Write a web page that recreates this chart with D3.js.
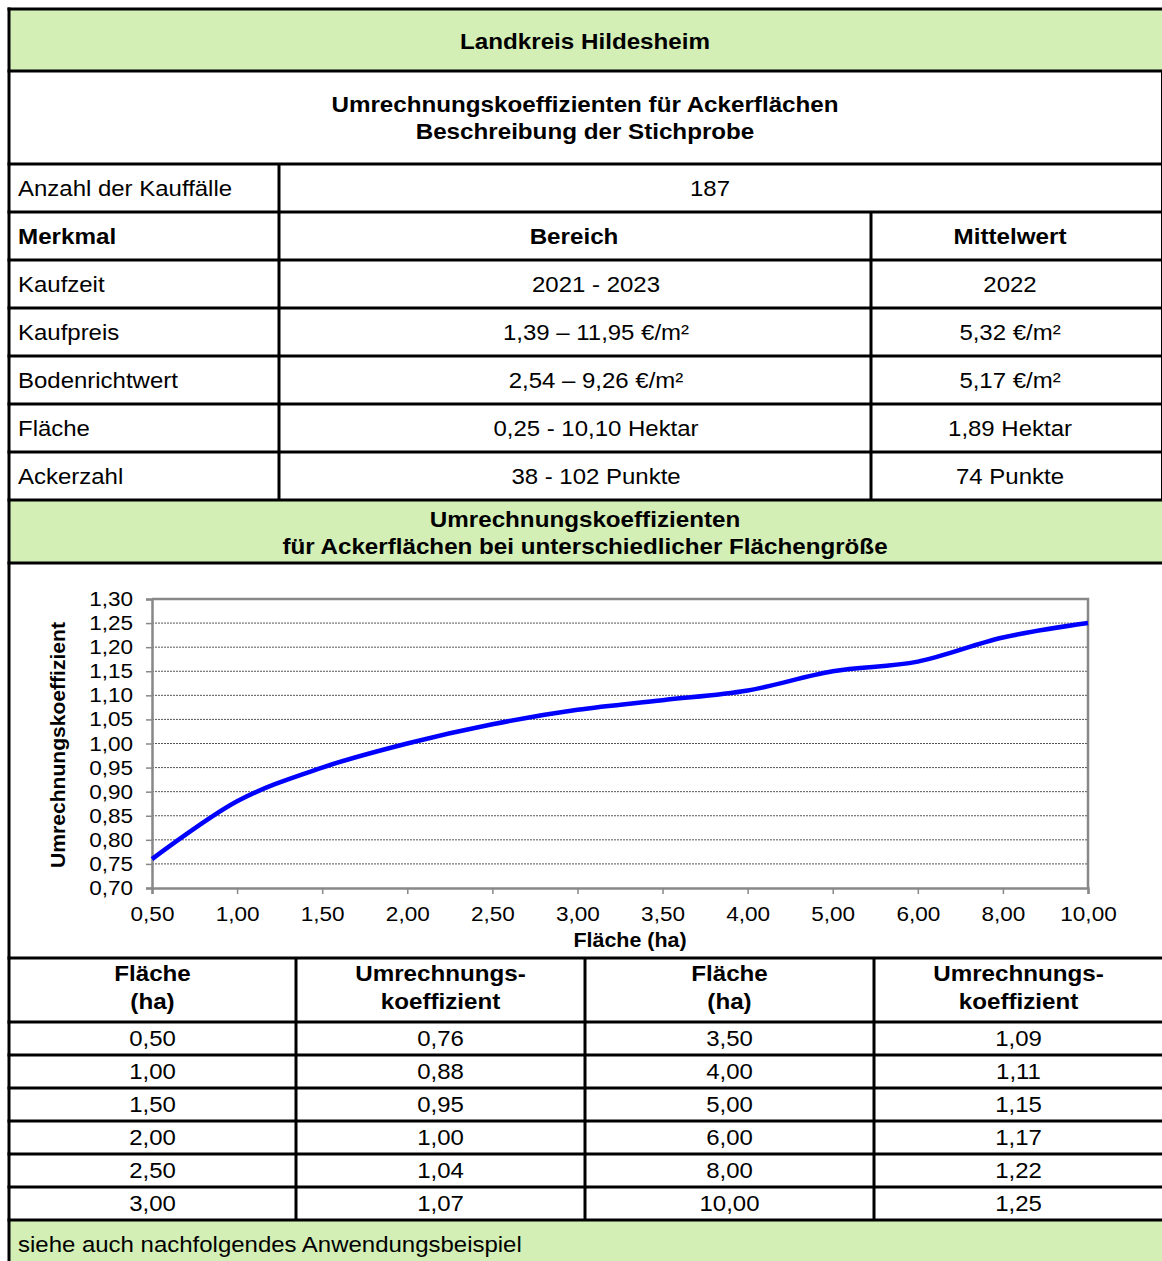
<!DOCTYPE html>
<html>
<head>
<meta charset="utf-8">
<script src="https://cdn.jsdelivr.net/npm/d3@7"></script>
<style>
  html, body { margin: 0; padding: 0; background: #fff; }
  svg { display: block; }
  text { font-family: "Liberation Sans", Arial, sans-serif; fill: #000; }
</style>
</head>
<body>
<svg id="sheet" width="1162" height="1261"></svg>
<script>
// Sample description
const sheetTitle = "Landkreis Hildesheim";
const sampleTitle = ["Umrechnungskoeffizienten für Ackerflächen", "Beschreibung der Stichprobe"];
const countLabel = "Anzahl der Kauffälle";
const countValue = "187";
const headers = ["Merkmal", "Bereich", "Mittelwert"];
const features = ["Kaufzeit", "Kaufpreis", "Bodenrichtwert", "Fläche", "Ackerzahl"];
const ranges = ["2021 - 2023", "1,39 – 11,95 €/m²", "2,54 – 9,26 €/m²", "0,25 - 10,10 Hektar", "38 - 102 Punkte"];
const means = ["2022", "5,32 €/m²", "5,17 €/m²", "1,89 Hektar", "74 Punkte"];

// Conversion coefficients by plot size
const chartTitle = ["Umrechnungskoeffizienten", "für Ackerflächen bei unterschiedlicher Flächengröße"];
const areas = [0.5, 1.0, 1.5, 2.0, 2.5, 3.0, 3.5, 4.0, 5.0, 6.0, 8.0, 10.0];
const coefficients = [0.76, 0.88, 0.95, 1.00, 1.04, 1.07, 1.09, 1.11, 1.15, 1.17, 1.22, 1.25];
const yTicks = [0.70, 0.75, 0.80, 0.85, 0.90, 0.95, 1.00, 1.05, 1.10, 1.15, 1.20, 1.25, 1.30];
const xAxisTitle = "Fläche (ha)";
const yAxisTitle = "Umrechnungskoeffizient";
const tableHeads = [["Fläche", "(ha)"], ["Umrechnungs-", "koeffizient"], ["Fläche", "(ha)"], ["Umrechnungs-", "koeffizient"]];
const footnote = "siehe auch nachfolgendes Anwendungsbeispiel";

const fmt2 = v => d3.format(".2f")(v).replace(".", ",");

const svg = d3.select("#sheet");
const GREEN = "#d3efb5";
const SX = 1.1; // horizontal glyph stretch

function txt(g, x, y, s, opts = {}) {
  return g.append("text")
    .attr("transform", `translate(${x},${y}) scale(${opts.sx ?? SX},1)`)
    .attr("text-anchor", opts.anchor || "middle")
    .attr("dominant-baseline", "central")
    .style("font-size", (opts.size || (opts.bold ? 22 : 21.8)) + "px")
    .style("font-weight", opts.bold ? "bold" : "normal")
    .text(s);
}

const L = 9, R = 1161;

// ---- backgrounds ----
svg.append("rect").attr("x", L).attr("y", 9).attr("width", 1162 - L).attr("height", 62).attr("fill", GREEN);
svg.append("rect").attr("x", L).attr("y", 500).attr("width", 1162 - L).attr("height", 63).attr("fill", GREEN);
svg.append("rect").attr("x", L).attr("y", 1220).attr("width", 1162 - L).attr("height", 41).attr("fill", GREEN);

// ---- upper table ----
const upper = svg.append("g");
txt(upper, 585, 41, sheetTitle, { bold: true });
txt(upper, 585, 104, sampleTitle[0], { bold: true });
txt(upper, 585, 131, sampleTitle[1], { bold: true });

txt(upper, 18, 188, countLabel, { anchor: "start" });
txt(upper, 710, 188, countValue);
txt(upper, 18, 236, headers[0], { anchor: "start", bold: true });
txt(upper, 574, 236, headers[1], { bold: true });
txt(upper, 1010, 236, headers[2], { bold: true });
features.forEach((f, i) => {
  const cy = 284 + i * 48;
  txt(upper, 18, cy, f, { anchor: "start" });
  txt(upper, 596, cy, ranges[i]);
  txt(upper, 1010, cy, means[i]);
});

// ---- chart ----
const plot = { left: 152, right: 1088, top: 599, bottom: 888 };
const x = d3.scalePoint().domain(areas.map(fmt2)).range([plot.left, plot.right]).padding(0);
const y = d3.scaleLinear().domain([0.70, 1.30]).range([plot.bottom, plot.top]);
const chart = svg.append("g");

// gridlines
chart.append("g").selectAll("line")
  .data(yTicks.filter(v => v > 0.70 && v < 1.30))
  .join("line")
  .attr("x1", plot.left).attr("x2", plot.right)
  .attr("y1", d => y(d)).attr("y2", d => y(d))
  .attr("stroke", "#555").attr("stroke-width", 1).attr("stroke-dasharray", "2,1");

// frame top/right
chart.append("path")
  .attr("d", `M${plot.left},${y(1.30)}H${plot.right}V${plot.bottom}`)
  .attr("fill", "none").attr("stroke", "#888").attr("stroke-width", 2.5);

// axes
const yAxis = chart.append("g").attr("transform", `translate(${plot.left},0)`)
  .call(d3.axisLeft(y).tickValues(yTicks).tickFormat(fmt2).tickSize(6).tickPadding(13));
const xAxis = chart.append("g").attr("transform", `translate(0,${plot.bottom})`)
  .call(d3.axisBottom(x).tickSize(6).tickPadding(12));
[yAxis, xAxis].forEach(a => {
  a.select(".domain").attr("stroke", "#888").attr("stroke-width", 2.5);
  a.selectAll(".tick line").attr("stroke", "#888").attr("stroke-width", 1.5);
  a.selectAll(".tick text")
    .style("font-family", '"Liberation Sans", Arial, sans-serif')
    .style("font-size", "20.5px").attr("fill", "#000");
});
yAxis.selectAll(".tick text")
  .attr("transform", function () { const xx = +d3.select(this).attr("x"); return `translate(${xx * (1 - SX)},0) scale(${SX},1)`; });
xAxis.selectAll(".tick text").attr("transform", `scale(${SX},1)`)
  .attr("x", function () { return 0; });

// conversion curve
const line = d3.line()
  .x((d, i) => x(fmt2(areas[i])))
  .y(d => y(d))
  .curve(d3.curveCatmullRom.alpha(0));
chart.append("path").datum(coefficients)
  .attr("d", line).attr("fill", "none")
  .attr("stroke", "#0000ff").attr("stroke-width", 4.5).attr("stroke-linejoin", "round");

// axis titles
txt(chart, 630, 940, xAxisTitle, { bold: true, size: 19.5 });
chart.append("text")
  .attr("transform", `translate(58,745) rotate(-90)`)
  .attr("text-anchor", "middle").attr("dominant-baseline", "central")
  .style("font-size", "19.5px").style("font-weight", "bold")
  .attr("textLength", 246).attr("lengthAdjust", "spacingAndGlyphs")
  .text(yAxisTitle);

// chart heading in green band
txt(svg, 585, 519, chartTitle[0], { bold: true });
txt(svg, 585, 546, chartTitle[1], { bold: true });

// ---- lower table ----
const colX = [9, 296, 585, 874, 1163];
const colC = colX.slice(0, 4).map((c, i) => (c + colX[i + 1]) / 2);
const low = svg.append("g");
tableHeads.forEach((h, i) => {
  txt(low, colC[i], 973, h[0], { bold: true });
  txt(low, colC[i], 1001, h[1], { bold: true });
});
const half = areas.length / 2;
d3.range(half).forEach(r => {
  const cy = 1038 + r * 33;
  txt(low, colC[0], cy, fmt2(areas[r]));
  txt(low, colC[1], cy, fmt2(coefficients[r]));
  txt(low, colC[2], cy, fmt2(areas[r + half]));
  txt(low, colC[3], cy, fmt2(coefficients[r + half]));
});
txt(low, 18, 1244, footnote, { anchor: "start" });

// ---- rules ----
const rules = svg.append("g").attr("stroke", "#000").attr("stroke-width", 3);
const hLines = [9, 71, 164, 212, 260, 308, 356, 404, 452, 500, 563, 958, 1022, 1055, 1088, 1121, 1154, 1187, 1220];
hLines.forEach(yy => rules.append("line").attr("x1", L - 1.5).attr("x2", 1162).attr("y1", yy).attr("y2", yy));
rules.append("line").attr("x1", L).attr("x2", L).attr("y1", 7.5).attr("y2", 1261);
rules.append("line").attr("x1", 279).attr("x2", 279).attr("y1", 164).attr("y2", 500);
rules.append("line").attr("x1", 871).attr("x2", 871).attr("y1", 212).attr("y2", 500);
[296, 585, 874].forEach(cx => rules.append("line").attr("x1", cx).attr("x2", cx).attr("y1", 958).attr("y2", 1220));
svg.append("line").attr("x1", R + 0.5).attr("x2", R + 0.5).attr("y1", 71).attr("y2", 500)
  .attr("stroke", "#000").attr("stroke-width", 1);
</script>
</body>
</html>
